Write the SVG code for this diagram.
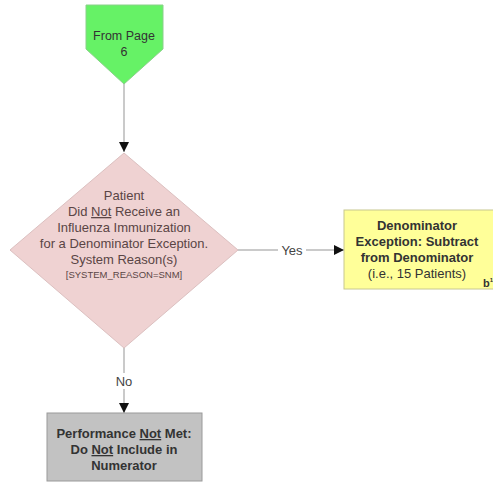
<svg xmlns="http://www.w3.org/2000/svg" width="493" height="485" viewBox="0 0 493 485">
  <defs>
    <marker id="arrow" viewBox="0 0 10 10" refX="10" refY="5" markerWidth="10" markerHeight="10" markerUnits="userSpaceOnUse" orient="auto">
      <path d="M0,0 L10,5 L0,10 z" fill="#111"/>
    </marker>
    <style>
      .t { font-family: "Liberation Sans", Arial, sans-serif; text-anchor: middle; }
      .conn { stroke: #b8b8b8; stroke-width: 1.5; fill: none; }
      .lbl { font-family: "Liberation Sans", Arial, sans-serif; font-size: 13px; fill: #444; text-anchor: middle; }
    </style>
  </defs>
  <rect width="493" height="485" fill="#ffffff"/>

  <!-- connectors -->
  <g id="connectors">
    <line class="conn" x1="124" y1="84" x2="124" y2="152" marker-end="url(#arrow)"/>
    <line class="conn" x1="238" y1="250" x2="344" y2="250" marker-end="url(#arrow)"/>
    <line class="conn" x1="124" y1="348" x2="124" y2="413" marker-end="url(#arrow)"/>
    <rect x="278" y="242" width="28" height="16" fill="#ffffff"/>
    <text class="lbl" x="292" y="255">Yes</text>
    <rect x="113" y="373" width="22" height="16" fill="#ffffff"/>
    <text class="lbl" x="124" y="386">No</text>
  </g>

  <!-- off-page connector -->
  <g id="from-page">
    <polygon points="86,5 163,5 163,49 124,84 86,49" fill="#66f266" stroke="#8ad08a" stroke-width="1"/>
    <text class="t" x="124" y="40" font-size="12.5" fill="#333">From Page</text>
    <text class="t" x="124" y="56" font-size="12.5" fill="#333">6</text>
  </g>

  <!-- decision -->
  <g id="decision">
    <polygon points="124,153 238,250 124,348 10,250" fill="#efd2d2" stroke="#dcc0c0" stroke-width="1"/>
    <g class="t" font-size="13" fill="#5a4545">
      <text x="124" y="200">Patient</text>
      <text x="124" y="216">Did <tspan text-decoration="underline">Not</tspan> Receive an</text>
      <text x="124" y="232">Influenza Immunization</text>
      <text x="124" y="248">for a Denominator Exception.</text>
      <text x="124" y="264">System Reason(s)</text>
      <text x="124" y="278" font-size="9.5">[SYSTEM_REASON=SNM]</text>
    </g>
  </g>

  <!-- exception outcome -->
  <g id="exception">
    <rect x="344" y="210" width="152" height="79" fill="#ffff99" stroke="#c8c890" stroke-width="1"/>
    <g class="t" font-size="13" fill="#333">
      <text x="417" y="230" font-weight="bold">Denominator</text>
      <text x="417" y="246" font-weight="bold">Exception: Subtract</text>
      <text x="417" y="262" font-weight="bold">from Denominator</text>
      <text x="417" y="278">(i.e., 15 Patients)</text>
    </g>
    <text x="483" y="287" font-family="Liberation Sans, Arial, sans-serif" font-size="11" font-weight="bold" fill="#333">b<tspan font-size="6" dy="-5">1</tspan></text>
  </g>

  <!-- not met outcome -->
  <g id="not-met">
    <rect x="47" y="413" width="155" height="68" fill="#c2c2c2" stroke="#9a9a9a" stroke-width="1"/>
    <g class="t" font-size="13" font-weight="bold" fill="#333">
      <text x="124" y="438">Performance <tspan text-decoration="underline">Not</tspan> Met:</text>
      <text x="124" y="454">Do <tspan text-decoration="underline">Not</tspan> Include in</text>
      <text x="124" y="470">Numerator</text>
    </g>
  </g>
</svg>
